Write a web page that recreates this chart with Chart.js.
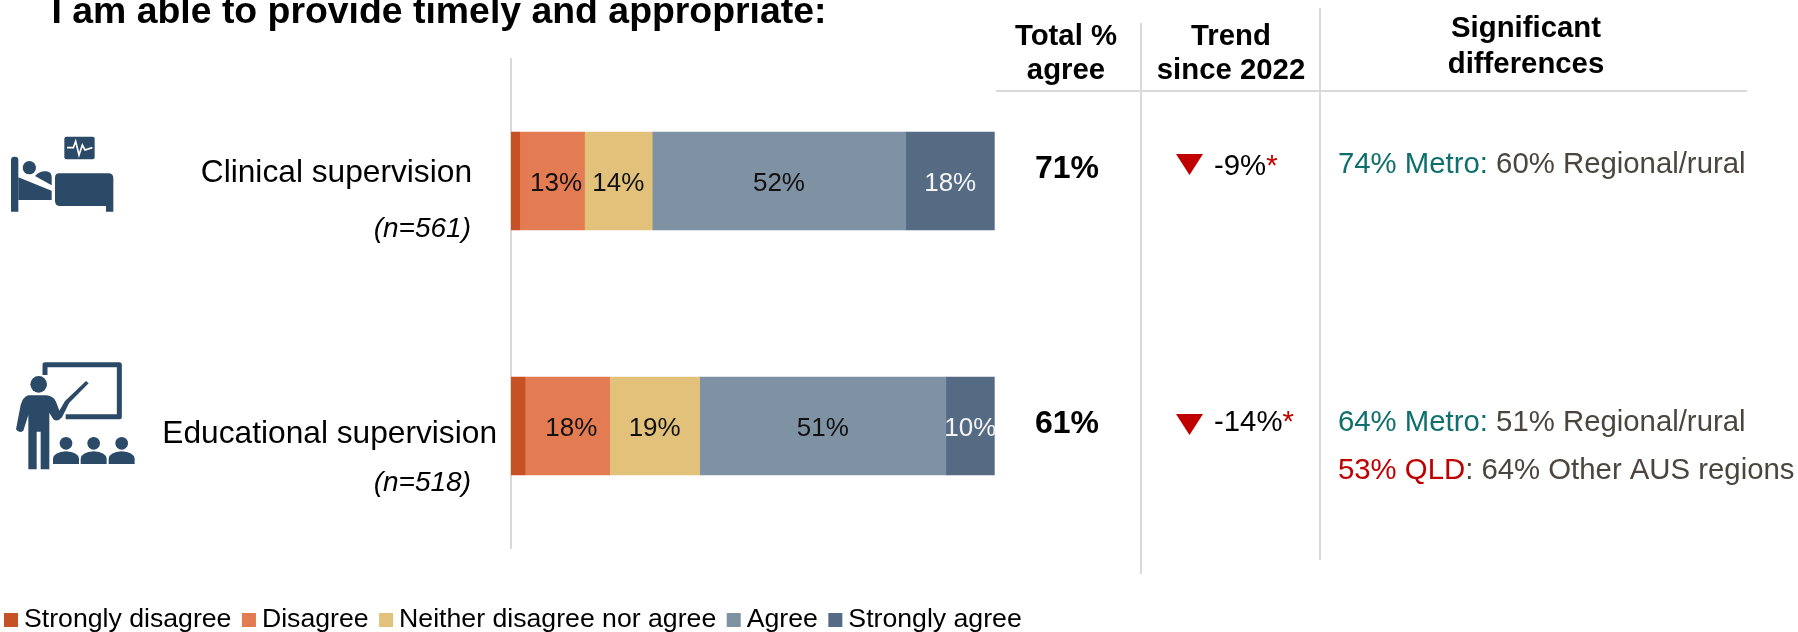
<!DOCTYPE html>
<html>
<head>
<meta charset="utf-8">
<style>
  html, body { margin: 0; padding: 0; background: #fff; overflow: hidden; }
  canvas { display: block; }
</style>
<script src="https://cdn.jsdelivr.net/npm/chart.js@4"></script>
</head>
<body>
<canvas id="supervisionChart" width="1798" height="632"></canvas>
<script>
const categories = ['Clinical supervision', 'Educational supervision'];
const sampleSizes = ['(n=561)', '(n=518)'];

const stronglyDisagree = [1.8, 2.9];
const disagree = [13.4, 17.5];
const neither = [14.0, 18.6];
const agree = [52.4, 50.9];
const stronglyAgree = [18.4, 10.1];

const totalAgree = ['71%', '61%'];
const trendValues = ['-9%', '-14%'];
const differences = [
    [['74% Metro', '60% Regional/rural', 'teal']],
    [['64% Metro', '51% Regional/rural', 'teal'], ['53% QLD', '64% Other AUS regions', 'red']]
];

const FONT = '"Liberation Sans", Arial, sans-serif';
const RED = '#C00000';
const TEAL = '#0F6F6C';
const GREY = '#4A453D';
const LINE = '#D9D9D9';
const ICON = '#2B4A67';

const ctx = document.getElementById('supervisionChart').getContext('2d');

function text(c, str, x, y, font, color, align) {
    c.font = font + ' ' + FONT;
    c.fillStyle = color;
    c.textAlign = align || 'left';
    c.textBaseline = 'alphabetic';
    c.fillText(str, x, y);
}

// icons are traced in 3x crop coordinates, see transform below
function drawIcons(c) {
    c.save();
    c.setTransform(1 / 3, 0, 0, 1 / 3, 0, 100);
    c.fillStyle = ICON;
    c.strokeStyle = ICON;
    // bed
    c.beginPath();
    c.roundRect(193, 110, 91, 68, 6);
    c.fill();
    c.beginPath();
    c.roundRect(33, 170, 22, 165, [10, 10, 0, 0]);
    c.fill();
    c.fill(new Path2D('M55 232 L155 272 L155 300 L55 300 Z'));
    c.fill(new Path2D('M105 228 Q118 212 140 214 Q155 216 155 232 L155 256 Z'));
    c.beginPath();
    c.arc(88, 203, 20, 0, Math.PI * 2);
    c.fill();
    c.fill(new Path2D('M178 220 L325 220 Q340 220 340 235 L340 335 L318 335 L318 318 L180 318 Q165 318 165 303 L165 233 Q165 220 178 220 Z'));
    c.strokeStyle = '#fff';
    c.lineWidth = 5;
    c.beginPath();
    c.moveTo(201, 143); c.lineTo(220, 143); c.lineTo(227, 124); c.lineTo(237, 165);
    c.lineTo(247, 135); c.lineTo(255, 150); c.lineTo(277, 143);
    c.stroke();
    // teacher
    c.strokeStyle = ICON;
    c.lineWidth = 15;
    c.lineJoin = 'round';
    c.beginPath();
    c.moveTo(135, 825); c.lineTo(135, 794); c.lineTo(358, 794); c.lineTo(358, 950); c.lineTo(197, 950);
    c.stroke();
    c.beginPath();
    c.arc(116, 853, 25, 0, Math.PI * 2);
    c.fill();
    c.fill(new Path2D('M85 886 L140 886 Q160 888 168 905 L178 932 L195 903 L258 843 L266 850 L208 908 L186 952 Q172 968 160 958 L148 938 L148 1108 L122 1108 L122 995 L110 995 L110 1108 L85 1108 L85 945 L70 992 Q58 1002 48 988 L62 915 Q68 892 85 886 Z'));
    [198, 281, 365].forEach(cx => {
        c.beginPath();
        c.arc(cx, 1030, 19, 0, Math.PI * 2);
        c.fill();
        c.fill(new Path2D(`M${cx - 39} 1092 L${cx - 39} 1076 Q${cx - 36} 1056 ${cx} 1054 Q${cx + 36} 1056 ${cx + 39} 1076 L${cx + 39} 1092 Z`));
    });
    c.restore();
}

function vline(c, x, y1, y2, width) {
    c.fillStyle = LINE;
    c.fillRect(x, y1, width, y2 - y1);
}

// everything outside the plot: title, side table, category labels, legend
const sideContent = {
    id: 'sideContent',
    afterDraw(chart) {
        const c = chart.ctx;
        const y = chart.scales.y;
        c.save();

        text(c, 'I am able to provide timely and appropriate:', 51.5, 23, 'bold 37.4px', '#000');

        // table rules
        vline(c, 1140, 23, 574, 2);
        vline(c, 1319, 8, 560, 2);
        c.fillStyle = LINE;
        c.fillRect(996, 90, 751, 2);

        // table header
        const head = 'bold 29.33px';
        text(c, 'Total %', 1066, 45, head, '#000', 'center');
        text(c, 'agree', 1066, 79, head, '#000', 'center');
        text(c, 'Trend', 1231, 45, head, '#000', 'center');
        text(c, 'since 2022', 1231, 79, head, '#000', 'center');
        text(c, 'Significant', 1526, 37, head, '#000', 'center');
        text(c, 'differences', 1526, 73, head, '#000', 'center');

        // offsets from the bar centre, the rows are not spaced evenly in the picture
        const nameY = [1, 17];
        const nY = [56, 65];
        const nameX = [472, 497];
        const totalY = [-3, 7];
        const trendY = [-6, 5];
        const arrowY = [-6, 9];

        categories.forEach((name, i) => {
            const mid = y.getPixelForValue(i);
            text(c, name, nameX[i], mid + nameY[i], '31.7px', '#000', 'right');
            text(c, sampleSizes[i], 471, mid + nY[i], 'italic 28px', '#000', 'right');
            text(c, totalAgree[i], 1067, mid + totalY[i], 'bold 32px', '#000', 'center');

            const tip = mid + arrowY[i];
            c.fillStyle = RED;
            c.beginPath();
            c.moveTo(1176, tip - 21);
            c.lineTo(1203, tip - 21);
            c.lineTo(1189.5, tip);
            c.closePath();
            c.fill();

            const base = mid + trendY[i];
            text(c, trendValues[i], 1214, base, '29.33px', '#000');
            const w = c.measureText(trendValues[i]).width;
            text(c, '*', 1214 + w, base, '29.33px', RED);

            differences[i].forEach((d, k) => {
                const by = base + k * 48 - (i === 0 ? 2 : 0);
                const col = d[2] === 'teal' ? TEAL : RED;
                text(c, d[0], 1338, by, '29.33px', col);
                let x = 1338 + c.measureText(d[0]).width;
                // the colon follows the group colour only in the Metro rows
                text(c, ':', x, by, '29.33px', d[2] === 'teal' ? TEAL : GREY);
                x += c.measureText(': ').width;
                text(c, d[1], x, by, '29.33px', GREY);
            });
        });

        drawIcons(c);

        // legend
        let lx = 4;
        chart.data.datasets.forEach(ds => {
            c.fillStyle = ds.backgroundColor;
            c.fillRect(lx, 613, 14, 14);
            text(c, ds.label, lx + 20, 627, '26.67px', '#000');
            lx += 20 + c.measureText(ds.label).width + 10.5;
        });
        c.restore();
    }
};

// percentage labels in the middle of each segment
const segmentLabels = {
    id: 'segmentLabels',
    afterDatasetsDraw(chart) {
        const c = chart.ctx;
        chart.data.datasets.forEach((ds, di) => {
            if (ds.hideLabel) return;
            chart.getDatasetMeta(di).data.forEach((bar, i) => {
                const cx = (bar.base + bar.x) / 2 + (ds.labelShift || 0);
                c.save();
                text(c, Math.round(ds.data[i]) + '%', cx, bar.y + 10, '26px', ds.labelColor, 'center');
                c.restore();
            });
        });
    }
};

new Chart(ctx, {
    type: 'bar',
    data: {
        labels: categories,
        datasets: [
            { label: 'Strongly disagree', data: stronglyDisagree, backgroundColor: '#C55125', hideLabel: true },
            { label: 'Disagree', data: disagree, backgroundColor: '#E37B53', labelColor: '#111', labelShift: 4 },
            { label: 'Neither disagree nor agree', data: neither, backgroundColor: '#E2C17B', labelColor: '#111' },
            { label: 'Agree', data: agree, backgroundColor: '#7F92A3', labelColor: '#111' },
            { label: 'Strongly agree', data: stronglyAgree, backgroundColor: '#556B84', labelColor: '#F4F4F4' }
        ]
    },
    options: {
        indexAxis: 'y',
        responsive: false,
        animation: false,
        barThickness: 98,
        layout: { padding: { left: 511, right: 803.3, top: 58.5, bottom: 83.5 } },
        scales: {
            x: { stacked: true, min: 0, max: 100, display: false },
            y: {
                stacked: true,
                grid: { display: false, drawTicks: false },
                border: { display: true, color: LINE, width: 2 },
                ticks: { display: false }
            }
        },
        plugins: {
            legend: { display: false },
            title: { display: false },
            tooltip: { enabled: false }
        }
    },
    plugins: [segmentLabels, sideContent]
});
</script>
</body>
</html>
